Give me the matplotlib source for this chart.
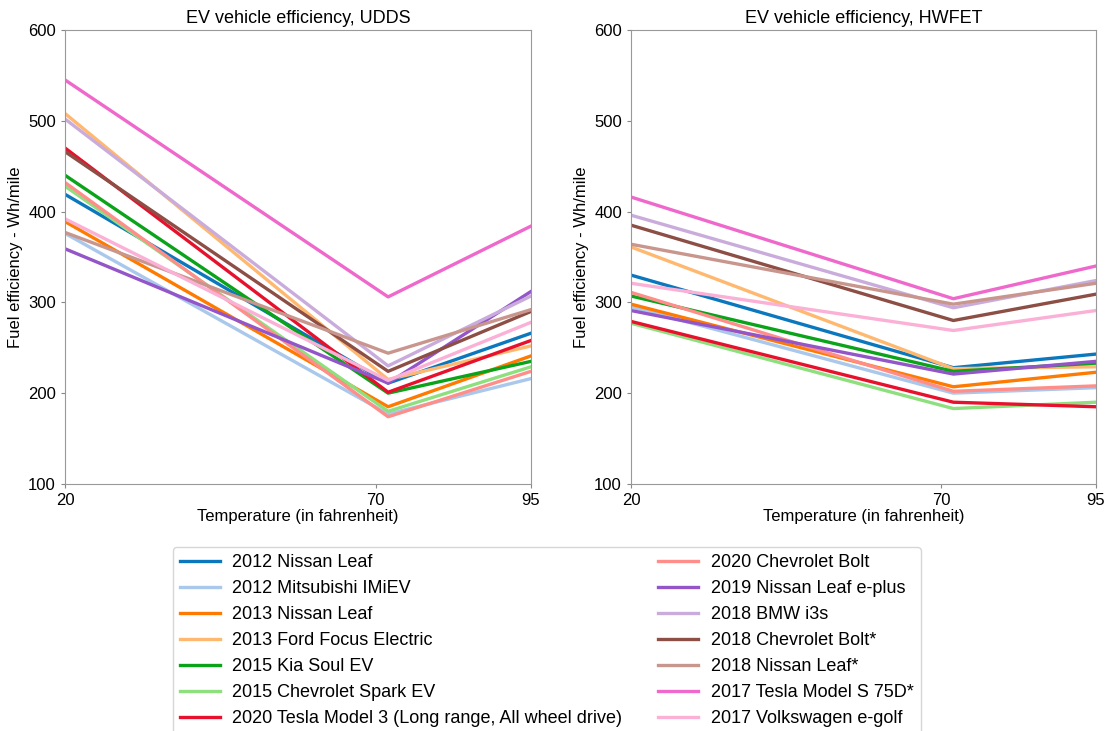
import matplotlib.pyplot as plt

plt.rcParams['font.family'] = ['Liberation Sans', 'DejaVu Sans']

temps = [20, 72, 95]
ticks_x = [20, 70, 95]

cars = ['2012 Nissan Leaf', '2012 Mitsubishi IMiEV', '2013 Nissan Leaf',
        '2013 Ford Focus Electric', '2015 Kia Soul EV', '2015 Chevrolet Spark EV',
        '2020 Tesla Model 3 (Long range, All wheel drive)', '2020 Chevrolet Bolt',
        '2019 Nissan Leaf e-plus', '2018 BMW i3s', '2018 Chevrolet Bolt*',
        '2018 Nissan Leaf*', '2017 Tesla Model S 75D*', '2017 Volkswagen e-golf']

colors = ['#0b77bd', '#a9c8ec', '#ff7a00', '#ffb870', '#0aa31a', '#8ee07f',
          '#e8112d', '#ff8e8a', '#9455c9', '#c9acdb', '#8c4e45', '#c9968e',
          '#ef69cc', '#fbb0d6']

# Wh/mile at 20F, 72F, 95F
udds = [
    [419, 211, 266],
    [376, 177, 216],
    [389, 185, 241],
    [508, 215, 252],
    [440, 200, 235],
    [428, 180, 229],
    [470, 201, 258],
    [432, 174, 224],
    [359, 211, 312],
    [502, 230, 307],
    [466, 224, 290],
    [377, 244, 292],
    [545, 306, 384],
    [392, 214, 278],
]

hwfet = [
    [330, 228, 243],
    [295, 200, 206],
    [298, 207, 223],
    [361, 227, 229],
    [307, 224, 233],
    [277, 183, 190],
    [279, 190, 185],
    [311, 202, 208],
    [291, 221, 235],
    [396, 294, 324],
    [385, 280, 309],
    [364, 298, 321],
    [416, 304, 340],
    [321, 269, 291],
]

fig = plt.figure(figsize=(11.07, 7.31), dpi=100)
ax1 = fig.add_axes([0.0587, 0.338, 0.421, 0.621])
ax2 = fig.add_axes([0.570, 0.338, 0.420, 0.621])


def draw(ax, data, title):
    for name, col, vals in zip(cars, colors, data):
        ax.plot(temps, vals, color=col, lw=2.4, label=name)
    ax.set_xlim(20, 95)
    ax.set_ylim(100, 600)
    ax.set_xticks(ticks_x)
    ax.set_yticks([100, 200, 300, 400, 500, 600])
    ax.tick_params(labelsize=12, color='#888888', length=3)
    for s in ax.spines.values():
        s.set_color('#999999')
    ax.set_title(title, fontsize=13, pad=5)
    ax.set_xlabel('Temperature (in fahrenheit)', fontsize=12, labelpad=1)
    ax.set_ylabel('Fuel efficiency - Wh/mile', fontsize=12)


draw(ax1, udds, 'EV vehicle efficiency, UDDS')
draw(ax2, hwfet, 'EV vehicle efficiency, HWFET')

handles, labels = ax1.get_legend_handles_labels()
fig.legend(handles, labels, loc='upper center', bbox_to_anchor=(0.494, 0.264),
           ncol=2, fontsize=13, frameon=True, columnspacing=2.0,
           handlelength=2.2, handletextpad=0.7, labelspacing=0.5,
           borderpad=0.4)

plt.savefig('out.png', dpi=100)
